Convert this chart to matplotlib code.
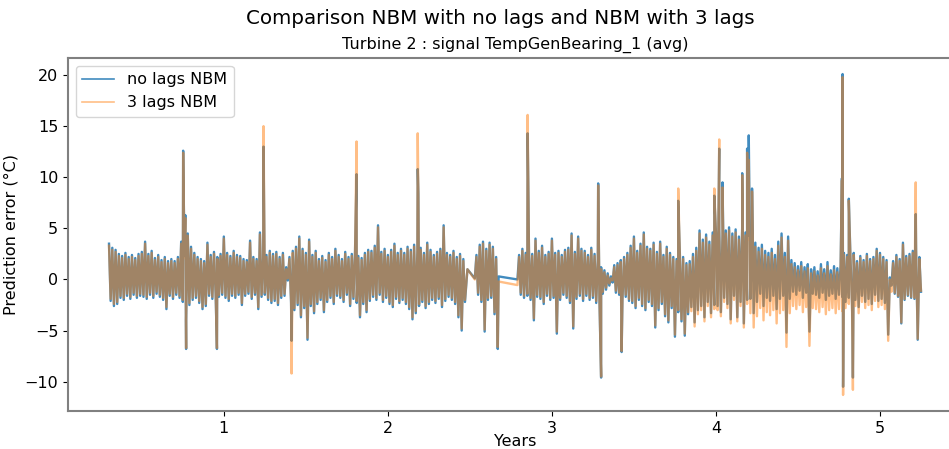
import matplotlib
matplotlib.use("Agg")
import matplotlib.pyplot as plt

plt.rcParams["path.simplify"] = False

# ---------------- data ----------------
# bins of 0.02 years starting at 0.30; each bin holds an upper and a lower excursion
bin_start = 0.30
bin_step = 0.02

blue_hi = [
    3.5, 3.1, 2.9, 2.5, 2.3, 2.6, 2.2, 2.4, 2.1, 2.5,      # 0.30-0.48
    2.7, 3.7, 2.5, 2.8, 2.1, 2.4, 1.9, 2.2, 1.8, 2.0,      # 0.50-0.68
    1.8, 2.2, 3.7, 2.3, 4.5, 3.2, 2.6, 2.2, 2.0, 1.8,      # 0.70-0.88
    3.6, 2.4, 2.7, 2.2, 2.5, 4.2, 2.6, 2.3, 2.8, 2.4,      # 0.90-1.08
    2.3, 2.0, 1.9, 3.8, 2.2, 2.0, 4.6, 2.1, 2.4, 2.8,      # 1.10-1.28
    2.5, 2.7, 2.2, 2.6, 1.2, 2.2, 2.8, 3.2, 4.2, 3.0,      # 1.30-1.48
    2.6, 3.9, 2.4, 2.8, 2.0, 2.3, 1.9, 2.6, 2.2, 3.0,      # 1.50-1.68
    2.4, 2.0, 2.7, 2.2, 2.5, 2.8, 2.3, 2.1, 2.6, 2.9,      # 1.70-1.88
    2.8, 3.3, 5.3, 2.7, 3.0, 2.4, 2.9, 3.5, 2.6, 3.0,      # 1.90-2.08
    2.6, 3.2, 2.9, 3.4, 2.8, 3.1, 2.6, 3.6, 2.9, 2.4,      # 2.10-2.28
    2.7, 3.0, 5.3, 2.6, 2.4, 2.8, 2.2, 2.5, 2.0, None,     # 2.30-2.48
    None, None, 2.4, 3.4, 3.7, 3.0, 3.6, 3.2, 2.2, None,   # 2.50-2.68
    None, None, None, None, None,                          # 2.70-2.78 (gap)
    2.4, 3.0, 2.6, 2.9, 2.5, 4.0, 2.8, 3.3, 2.4, 2.7,      # 2.80-2.98
    4.0, 2.6, 2.8, 2.4, 2.9, 3.1, 4.5, 2.7, 4.2, 3.0,      # 3.00-3.18
    2.8, 2.4, 3.1, 2.5, 2.0, 1.2, 0.9, 0.6, 0.3, 1.4,      # 3.20-3.38
    1.6, 1.9, 2.2, 2.6, 3.3, 4.2, 2.8, 3.5, 4.6, 3.2,      # 3.40-3.58
    3.0, 3.6, 2.7, 3.7, 2.4, 3.2, 2.6, 2.2, 2.0, 2.5,      # 3.60-3.78
    2.2, 1.6, 1.8, 2.5, 3.1, 4.8, 3.9, 4.4, 3.7, 4.6,      # 3.80-3.98
    4.6, 5.0, 4.4, 4.8, 5.1, 4.5, 4.9, 4.2, 5.1, 4.6,      # 4.00-4.18
    4.3, 4.0, 3.6, 3.1, 3.4, 2.8, 2.6, 3.0, 2.4, 3.7,      # 4.20-4.38
    4.5, 2.6, 4.2, 1.9, 1.6, 1.3, 1.7, 1.2, 1.5, 1.0,      # 4.40-4.58
    1.2, 0.8, 1.5, 1.0, 1.7, 0.9, 1.3, 1.1, 1.4, 2.6,      # 4.60-4.78
    2.4, 2.1, 2.6, 1.8, 2.3, 1.9, 2.5, 2.0, 2.2, 3.0,      # 4.80-4.98
    2.6, 2.2, 1.9, 0.2, 1.8, 2.4, 2.0, 3.6, 2.3, 2.5,      # 5.00-5.18
    2.8, 3.0, 2.2,                                         # 5.20-5.24
]
blue_lo = [
    -2.1, -2.6, -2.4, -1.8, -2.0, -1.6, -1.9, -1.5, -1.8, -1.6,
    -1.7, -1.9, -1.5, -1.8, -1.4, -1.7, -2.0, -2.9, -1.6, -1.9,
    -1.5, -1.8, -2.2, -4.0, -2.5, -2.0, -1.8, -2.3, -2.9, -2.6,
    -1.6, -1.9, -1.4, -1.7, -1.5, -1.8, -2.1, -1.6, -1.8, -1.5,
    -2.5, -1.6, -1.4, -1.9, -1.5, -2.9, -1.7, -1.5, -2.0, -2.3,
    -2.1, -2.5, -1.8, -1.6, -0.1, -2.3, -3.0, -2.5, -3.7, -2.8,
    -5.9, -2.6, -3.3, -2.4, -2.0, -3.2, -2.2, -1.8, -2.4, -1.6,
    -1.8, -2.2, -1.5, -2.6, -1.9, -2.3, -3.7, -2.4, -3.2, -2.1,
    -1.7, -2.0, -1.5, -2.2, -1.8, -2.4, -2.7, -1.9, -2.3, -2.0,
    -2.4, -2.9, -3.9, -3.3, -2.6, -2.2, -2.8, -2.4, -2.0, -2.3,
    -1.9, -2.7, -2.1, -1.7, -2.0, -2.4, -3.7, -5.0, -2.2, None,
    None, None, -1.5, -2.2, -5.1, -2.0, -1.8, -3.4, -6.8, None,
    None, None, None, None, None,
    -1.5, -1.8, -1.6, -2.0, -4.0, -1.7, -1.9, -2.4, -1.6, -2.0,
    -1.8, -5.3, -2.0, -1.5, -1.8, -2.3, -4.8, -1.9, -1.6, -2.1,
    -1.6, -2.0, -1.8, -2.3, -2.2, -1.4, -1.0, -0.6, -0.3, -1.3,
    -1.5, -2.0, -1.7, -2.1, -2.3, -2.8, -2.0, -2.6, -3.0, -2.2,
    -2.6, -4.7, -3.0, -2.4, -3.6, -4.2, -2.8, -5.6, -3.2, -4.1,
    -5.5, -3.4, -2.7, -4.2, -3.0, -2.6, -3.7, -2.2, -3.3, -2.5,
    -2.6, -3.2, -1.8, -2.4, -3.9, -1.6, -3.7, -2.2, -4.3, -2.0,
    -1.9, -3.3, -2.2, -1.4, -2.6, -1.8, -2.1, -1.6, -2.9, -1.9,
    -1.6, -5.2, -1.9, -1.2, -1.5, -1.1, -1.8, -1.3, -5.1, -1.4,
    -1.5, -1.8, -1.3, -2.0, -1.6, -1.4, -1.9, -1.5, -1.7, -2.2,
    -1.8, -2.5, -2.0, -2.7, -1.6, -2.2, -1.9, -2.4, -1.5, -2.1,
    -1.9, -2.3, -5.4, -0.6, -1.4, -1.7, -4.3, -2.0, -1.6, -1.8,
    -1.9, -5.9, -1.2,
]

# how far the 3-lag model's band sits from the no-lag band, per period
orange_shift_start = [0.30, 3.84, 4.20, 4.78, 5.08]
orange_shift_hi = [-0.2, -0.3, -0.4, -0.2, -0.2]
orange_shift_lo = [0.2, -0.4, -1.4, -0.6, 0.1]

# isolated spikes and the ends of the straight data-gap segments
spike_years = [0.752, 0.765, 0.770, 0.958, 1.242, 1.413, 1.809, 2.182, 2.186,
               2.485, 2.530, 2.675, 2.790, 2.852, 2.857, 3.282, 3.300, 3.425,
               3.770, 3.990, 4.020, 4.040, 4.160, 4.190, 4.200, 4.220,
               4.768, 4.772, 4.775, 4.810, 4.835, 5.218]
spike_no_lags = [12.6, 6.3, -6.8, -6.8, 13.0, -6.0, 10.3, 10.8, 8.4,
                 1.0, 0.1, 0.3, 0.0, 14.3, 7.9, 9.4, -9.6, -7.1,
                 7.7, 8.2, 12.8, 9.5, 10.4, 12.8, 14.1, 8.9,
                 9.9, 20.1, -10.5, 7.9, -9.6, 6.4]
spike_3_lags = [12.4, 6.0, -6.7, -6.7, 15.0, -9.2, 13.5, 14.3, 8.0,
                1.0, 0.0, -0.2, -0.55, 16.1, 7.5, 9.2, -9.5, -7.0,
                8.9, 8.9, 13.7, 9.0, 10.2, 12.4, 11.7, 8.6,
                9.7, 19.8, -11.3, 7.7, -10.8, 9.5]

title = "Comparison NBM with no lags and NBM with 3 lags"
subtitle = "Turbine 2 : signal TempGenBearing_1 (avg)"


# ---------------- build the two series ----------------
def shift_for(x):
    k = 0
    for i, s in enumerate(orange_shift_start):
        if x >= s:
            k = i
    return orange_shift_hi[k], orange_shift_lo[k]


blue_pts, orange_pts = [], []
for i, (h, l) in enumerate(zip(blue_hi, blue_lo)):
    if h is None:
        continue
    x = bin_start + i * bin_step
    dh, dl = shift_for(x)
    blue_pts.append((x, h))
    blue_pts.append((x + bin_step / 2, l))
    orange_pts.append((x, h + dh))
    orange_pts.append((x + bin_step / 2, l + dl))
for x, b, o in zip(spike_years, spike_no_lags, spike_3_lags):
    blue_pts.append((x, b))
    orange_pts.append((x, o))
blue_pts.sort()
orange_pts.sort()
bx = [p[0] for p in blue_pts]
by = [p[1] for p in blue_pts]
ox = [p[0] for p in orange_pts]
oy = [p[1] for p in orange_pts]

# ---------------- figure ----------------
fig = plt.figure(figsize=(9.49, 4.49), dpi=100)
ax = fig.add_axes([68 / 949, 38 / 449, 894 / 949, 353 / 449])

ax.plot(bx, by, color="#1f77b4", lw=1.7, alpha=0.85, label="no lags NBM")
ax.plot(ox, oy, color="#ff7f0e", lw=1.7, alpha=0.5, label="3 lags NBM")

ax.set_xlim(0.05, 5.5)
ax.set_ylim(-12.87, 21.67)
ax.set_xticks([1, 2, 3, 4, 5])
ax.set_yticks([-10, -5, 0, 5, 10, 15, 20])
ax.tick_params(labelsize=11.5)
for sp in ax.spines.values():
    sp.set_color("#808080")
    sp.set_linewidth(1.5)

ax.set_xlabel("Years", fontsize=11.5, labelpad=-1)
ax.set_ylabel("Prediction error (°C)", fontsize=11.5)
leg = ax.legend(loc="upper left", fontsize=11.5)
for h in leg.get_lines():
    h.set_linewidth(1.2)

fig.text(500 / 949, 1 - 19 / 449, title, ha="center", va="center", fontsize=14.3)
fig.text(515 / 949, 1 - 45 / 449, subtitle, ha="center", va="center", fontsize=11.5)

fig.savefig("out.png", dpi=100)
